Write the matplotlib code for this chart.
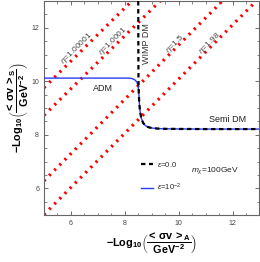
import numpy as np
import matplotlib.pyplot as plt
from matplotlib.ticker import MultipleLocator

plt.rcParams['font.family'] = ['Liberation Sans', 'DejaVu Sans']
plt.rcParams['mathtext.fontset'] = 'custom'
plt.rcParams['mathtext.rm'] = 'Liberation Sans'
plt.rcParams['mathtext.it'] = 'Liberation Sans:italic'
plt.rcParams['mathtext.bf'] = 'Liberation Sans:bold'

eta_labels = ['1.00001', '1.0001', '1.5', '1.98']
eta_x0 = [5.0, 5.0, 5.0, 5.0]
eta_y0 = [9.76, 8.73, 6.28, 5.02]
eta_x1 = [8.26, 9.31, 11.62, 12.88]
eta_y1 = [13.0, 13.0, 13.0, 13.0]
eta_lab_x = [6.2, 7.58, 9.88, 11.15]
eta_lab_y = [11.22, 11.5, 11.4, 11.42]

# eps = 0 curve
eps0_x = [8.50, 8.505, 8.51, 8.52, 8.54, 8.57, 8.62, 8.68, 8.76, 8.86, 9.0, 9.2, 9.5, 10.0, 11.0, 13.0]
eps0_y = [13.0, 11.0, 10.0, 9.55, 9.15, 8.85, 8.6, 8.45, 8.35, 8.29, 8.255, 8.235, 8.225, 8.22, 8.215, 8.215]

# eps = 1e-2 curve
eps2_x = [5.0, 8.15, 8.28, 8.38, 8.45, 8.49, 8.52, 8.54, 8.57, 8.62, 8.68, 8.76, 8.86, 9.0, 9.2, 9.5, 10.0, 11.0, 13.0]
eps2_y = [10.12, 10.12, 10.1, 10.05, 9.97, 9.85, 9.6, 9.2, 8.86, 8.6, 8.45, 8.35, 8.29, 8.255, 8.235, 8.225, 8.22, 8.215, 8.215]

fig = plt.figure(figsize=(2.6, 2.62), dpi=100)
ax = fig.add_axes([0.169, 0.179, 0.829, 0.817])

for i in range(len(eta_labels)):
    ax.plot([eta_x0[i], eta_x1[i]], [eta_y0[i], eta_y1[i]], color='red',
            lw=2.3, linestyle=(0, (0.7, 1.6)), dash_capstyle='butt', zorder=2)
    ax.text(eta_lab_x[i], eta_lab_y[i], r'$\eta$=' + eta_labels[i], rotation=45,
            rotation_mode='anchor', ha='center', va='center', fontsize=6, color='#444444')

ax.plot(eps2_x, eps2_y, color='#2a3cf0', lw=1.0, zorder=3)
ax.plot(eps0_x, eps0_y, color='black', lw=1.6, linestyle=(0, (2.0, 1.6)), zorder=4)

ax.text(8.8, 11.4, 'WIMP DM', rotation=90, ha='center', va='center', fontsize=6.5, color='#333333')
ax.text(7.2, 9.74, 'ADM', ha='center', va='center', fontsize=6.5, color='#222222')
ax.text(11.8, 8.58, 'Semi DM', ha='center', va='center', fontsize=6.5, color='#222222')
ax.text(11.35, 6.65, r'$m_\chi$=100GeV', ha='center', va='center', fontsize=6, color='#222222')

# legend
ax.plot([8.6, 9.05], [6.9, 6.9], color='black', lw=1.6, linestyle=(0, (2.0, 1.6)))
ax.plot([8.6, 9.05], [6.02, 6.02], color='#2a3cf0', lw=1.0)
ax.text(9.2, 6.9, r'$\epsilon$=0.0', ha='left', va='center', fontsize=5.5, color='#222222')
ax.text(9.2, 6.02, r'$\epsilon$=10$^{-2}$', ha='left', va='center', fontsize=5.5, color='#222222')

ax.set_xlim(5, 13)
ax.set_ylim(5, 13)
ax.xaxis.set_major_locator(MultipleLocator(2))
ax.yaxis.set_major_locator(MultipleLocator(2))
ax.xaxis.set_minor_locator(MultipleLocator(0.5))
ax.yaxis.set_minor_locator(MultipleLocator(0.5))
ax.tick_params(which='both', direction='in', top=True, right=True, colors='#555555',
               labelsize=5, labelcolor='#444444')
ax.tick_params(which='major', length=3, width=0.6)
ax.tick_params(which='minor', length=1.8, width=0.5)
for s in ax.spines.values():
    s.set_color('#666666')
    s.set_linewidth(0.8)

ax.set_xlabel(r'$\mathbf{-Log_{10}\left(\dfrac{<\,\sigma v\,>_A}{GeV^{-2}}\right)}$', fontsize=7.8, labelpad=2)
ax.set_ylabel(r'$\mathbf{-Log_{10}\left(\dfrac{<\,\sigma v\,>_S}{GeV^{-2}}\right)}$', fontsize=7.8, labelpad=0)

fig.savefig('out.png', dpi=100)
